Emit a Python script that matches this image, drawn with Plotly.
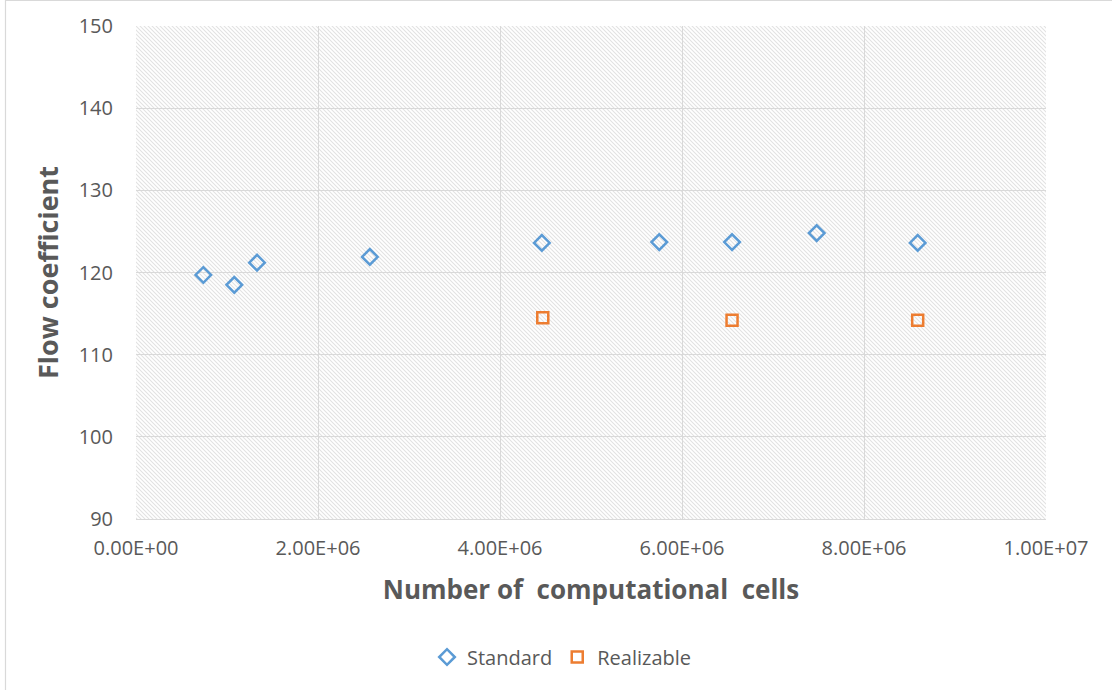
import base64
import plotly.graph_objects as go

# ---- data ----
std_cells = [0.74e6, 1.08e6, 1.33e6, 2.57e6, 4.46e6, 5.75e6, 6.55e6, 7.48e6, 8.59e6]
std_flow = [119.7, 118.5, 121.2, 121.9, 123.6, 123.7, 123.7, 124.8, 123.6]
real_cells = [4.47e6, 6.55e6, 8.59e6]
real_flow = [114.5, 114.2, 114.2]
x_ticks = [0, 2e6, 4e6, 6e6, 8e6, 1e7]
y_ticks = [90, 100, 110, 120, 130, 140, 150]

W, H = 1112, 690
L, R, T, B = 136, 66, 26, 171
PW, PH = W - L - R, H - T - B

TXT = "#595959"
FONT = "Open Sans"

# hatched plot-area background (Excel "wide downward diagonal" look)
svg = (
    f'<svg xmlns="http://www.w3.org/2000/svg" width="{PW}" height="{PH}" viewBox="0 0 {PW} {PH}">'
    '<defs><pattern id="p" patternUnits="userSpaceOnUse" width="4" height="4">'
    '<path d="M-1,-1 L5,5 M-1,3 L1,5 M3,-1 L5,1" stroke="#e2e2e2" stroke-width="1.1"/>'
    '</pattern></defs>'
    f'<rect width="{PW}" height="{PH}" fill="white"/>'
    f'<rect width="{PW}" height="{PH}" fill="url(#p)"/></svg>'
)
img_src = "data:image/svg+xml;base64," + base64.b64encode(svg.encode()).decode()

fig = go.Figure()
fig.add_trace(go.Scatter(
    x=std_cells, y=std_flow, mode="markers", name="Standard",
    marker=dict(symbol="diamond-open", size=12, color="#5b9bd5", line=dict(width=2.5, color="#5b9bd5")),
))
fig.add_trace(go.Scatter(
    x=real_cells, y=real_flow, mode="markers", name="Realizable",
    marker=dict(symbol="square-open", size=11, color="#ed7d31", line=dict(width=2.5, color="#ed7d31")),
))

fig.update_layout(
    width=W, height=H,
    margin=dict(l=L, r=R, t=T, b=B, pad=0),
    paper_bgcolor="white",
    plot_bgcolor="rgba(0,0,0,0)",
    font=dict(family=FONT, color=TXT, size=20),
    showlegend=True,
    legend=dict(orientation="h", x=(562 - L) / PW, xanchor="center",
                y=(H - B - 657) / PH, yanchor="middle",
                font=dict(size=20, color=TXT), itemwidth=30),
    images=[dict(source=img_src, xref="paper", yref="paper", x=0, y=1,
                 sizex=1, sizey=1, sizing="stretch", layer="below")],
    shapes=[dict(type="rect", xref="paper", yref="paper",
                 x0=(5.5 - L) / PW, x1=(W + 5 - L) / PW,
                 y0=-(B + 5) / PH, y1=1 + (T - 0.5) / PH,
                 line=dict(color="#d9d9d9", width=1.2), fillcolor="rgba(0,0,0,0)", layer="below")],
)

fig.update_xaxes(
    range=[0, 1e7], tickvals=x_ticks, ticktext=[f"{v:.2E}" for v in x_ticks],
    showgrid=True, gridcolor="#d9d9d9", gridwidth=1,
    showline=True, linecolor="#d9d9d9", linewidth=1, mirror=False,
    zeroline=False, ticks="", ticklabelstandoff=11,
    tickfont=dict(size=20, color=TXT),
    title=dict(text="Number of  computational  cells", standoff=20,
               font=dict(size=26, color=TXT, family=FONT, weight="bold")),
)
fig.update_yaxes(
    range=[90, 150], tickvals=y_ticks,
    showgrid=True, gridcolor="#d9d9d9", gridwidth=1,
    showline=False, zeroline=False, ticks="", ticklabelstandoff=22,
    tickfont=dict(size=20, color=TXT),
    title=dict(text="Flow coefficient", standoff=12,
               font=dict(size=27, color=TXT, family=FONT, weight="bold")),
)

fig.write_html("out.html")
